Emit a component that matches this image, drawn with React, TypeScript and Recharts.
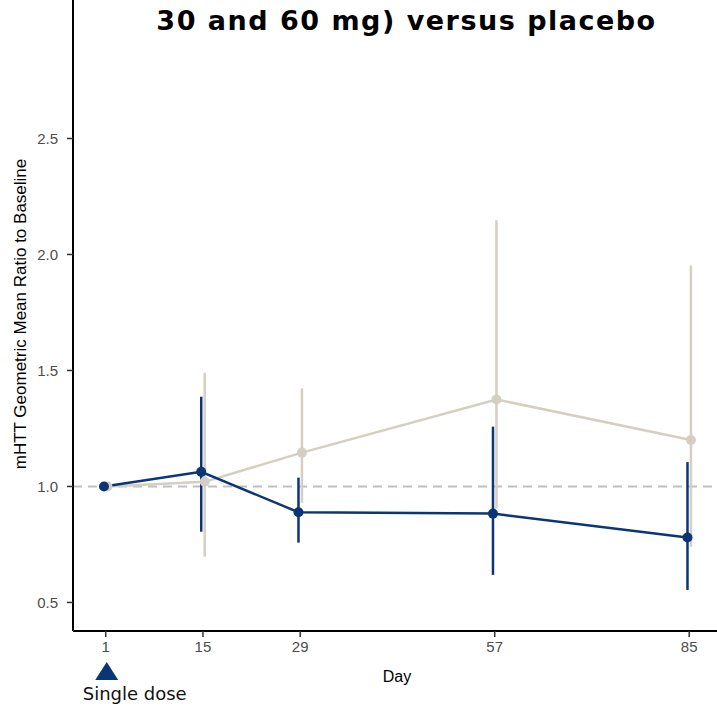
import React from 'react';
import { LineChart, Line, XAxis, YAxis, ErrorBar, ReferenceLine, Label } from 'recharts';

// Study days and values
const days = [1, 15, 29, 57, 85];
const yTicks = [0.5, 1.0, 1.5, 2.0, 2.5];

const placeboMean = [1.0, 1.02, 1.146, 1.375, 1.2];
const placeboLow = [1.0, 0.697, 0.93, 0.905, 0.74];
const placeboHigh = [1.0, 1.49, 1.423, 2.148, 1.953];

const drugMean = [1.0, 1.063, 0.889, 0.883, 0.78];
const drugLow = [1.0, 0.805, 0.758, 0.619, 0.554];
const drugHigh = [1.0, 1.387, 1.038, 1.258, 1.105];

const DOSE_DAY = 1;
const NAVY = '#0c3576';
const BEIGE = '#d5cec2';
const TICK_FONT = '"Liberation Sans", Arial, sans-serif';

// small horizontal dodge so the two groups don't sit on top of each other
const DODGE = 0.25;

const buildSeries = (mean: number[], low: number[], high: number[], shift: number) =>
  days.map((d, i) => ({
    day: d + shift,
    value: mean[i],
    err: [mean[i] - low[i], high[i] - mean[i]],
  }));

const placeboData = buildSeries(placeboMean, placeboLow, placeboHigh, DODGE);
const drugData = buildSeries(drugMean, drugLow, drugHigh, -DODGE);

const DayTick = (props: any) => {
  const { x, y, payload } = props;
  return (
    <g>
      <text x={x} y={y} dy={12} textAnchor="middle" fill="#4d4d4d" fontSize={15} fontFamily={TICK_FONT}>
        {payload.value}
      </text>
      {payload.value === DOSE_DAY && (
        <g>
          <polygon points={`${x - 10.5},${y + 40} ${x + 12.5},${y + 40} ${x + 1},${y + 22}`} fill={NAVY} />
          <text x={x - 23} y={y + 60} fill="#111" fontSize={18} fontFamily='"DejaVu Sans", Verdana, sans-serif'>
            Single dose
          </text>
        </g>
      )}
    </g>
  );
};

export default function App() {
  return (
    <div style={{ position: 'absolute', left: 0, top: 0, width: 717, height: 706, background: '#fff' }}>
      <div
        style={{
          position: 'absolute',
          left: 0,
          top: 7,
          width: 813,
          textAlign: 'center',
          fontFamily: '"DejaVu Sans", Verdana, sans-serif',
          fontWeight: 'bold',
          fontSize: 27,
          letterSpacing: 1.5,
          lineHeight: '27px',
          color: '#000',
          zIndex: 2,
          whiteSpace: 'nowrap',
        }}
      >
        30 and 60 mg) versus placebo
      </div>
      <LineChart width={717} height={706} margin={{ top: 0, right: 0, bottom: 0, left: 0 }}>
        <XAxis
          dataKey="day"
          type="number"
          domain={[-3.71, 89]}
          ticks={days}
          allowDataOverflow
          height={75}
          axisLine={{ stroke: '#000', strokeWidth: 2 }}
          tickLine={{ stroke: '#333', strokeWidth: 1.5 }}
          tickSize={6}
          tickMargin={3}
          tick={<DayTick />}
        >
          <Label
            content={(p: any) => {
              const vb = p.viewBox;
              return (
                <text x={vb.x + vb.width / 2 + 2} y={682} textAnchor="middle" fill="#000" fontSize={16} fontFamily={TICK_FONT}>
                  Day
                </text>
              );
            }}
          />
        </XAxis>
        <YAxis
          type="number"
          domain={[0.377, 3.097]}
          ticks={yTicks}
          allowDataOverflow
          width={73}
          axisLine={{ stroke: '#000', strokeWidth: 2 }}
          tickLine={{ stroke: '#333', strokeWidth: 1.5 }}
          tickSize={6}
          tickMargin={9}
          tickFormatter={(v: number) => v.toFixed(1)}
          tick={{ fill: '#4d4d4d', fontSize: 15, fontFamily: TICK_FONT }}
        >
          <Label
            content={() => (
              <text
                x={20}
                y={314}
                transform="rotate(-90 20 314)"
                textAnchor="middle"
                dominantBaseline="central"
                fill="#000"
                fontSize={17}
                fontFamily={TICK_FONT}
              >
                mHTT Geometric Mean Ratio to Baseline
              </text>
            )}
          />
        </YAxis>
        <ReferenceLine y={1} stroke="#bfbfbf" strokeWidth={2} strokeDasharray="9 6" />
        <Line
          data={placeboData}
          dataKey="value"
          stroke={BEIGE}
          strokeWidth={2.5}
          dot={{ r: 5, fill: BEIGE, stroke: 'none' }}
          activeDot={false}
          isAnimationActive={false}
        >
          <ErrorBar dataKey="err" direction="y" width={0} stroke={BEIGE} strokeWidth={2.5} />
        </Line>
        <Line
          data={drugData}
          dataKey="value"
          stroke={NAVY}
          strokeWidth={2.5}
          dot={{ r: 5, fill: NAVY, stroke: 'none' }}
          activeDot={false}
          isAnimationActive={false}
        >
          <ErrorBar dataKey="err" direction="y" width={0} stroke={NAVY} strokeWidth={2.5} />
        </Line>
      </LineChart>
    </div>
  );
}
